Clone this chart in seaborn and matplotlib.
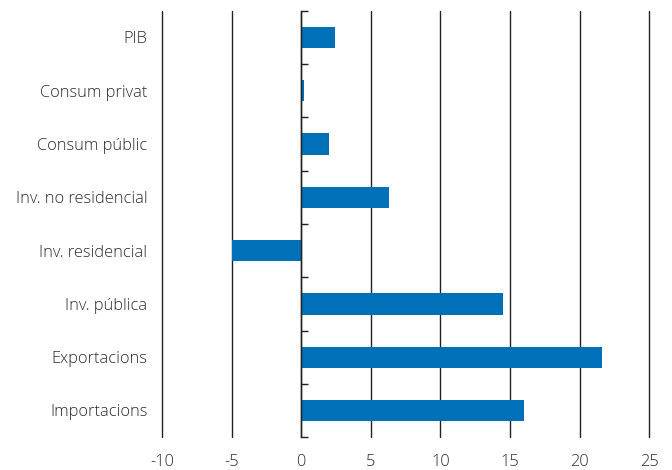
import pandas as pd
import matplotlib
matplotlib.use('Agg')
import matplotlib.pyplot as plt
import seaborn as sns
from matplotlib.ticker import FixedLocator, MultipleLocator

# dades
categories = ['PIB', 'Consum privat', 'Consum públic', 'Inv. no residencial',
              'Inv. residencial', 'Inv. pública', 'Exportacions', 'Importacions']
values = [2.4, 0.2, 2.0, 6.3, -5.0, 14.5, 21.6, 16.0]

df = pd.DataFrame({'categoria': categories, 'valor': values})

sns.set_style('white')
plt.rcParams['font.family'] = ['Open Sans', 'DejaVu Sans']
plt.rcParams['axes.unicode_minus'] = False
text_color = '#2a2a2a'

fig = plt.figure(figsize=(6.72, 4.70), dpi=100)
ax = fig.add_axes([0.241, 0.070, 0.725, 0.907])

sns.barplot(data=df, x='valor', y='categoria', orient='h', color='#0070b8',
            width=0.4, saturation=1, linewidth=0, ax=ax)

ax.set_xlim(-10, 25)
ax.set_ylim(len(categories) - 0.5, -0.5)
ax.xaxis.set_major_locator(MultipleLocator(5))
ax.grid(axis='x', color='#222222', linewidth=1)
ax.grid(axis='y', visible=False)
ax.set_axisbelow(True)
for gl in ax.get_xgridlines():
    gl.set_clip_on(False)

# línia del zero amb marques entre categories
for s in ['top', 'bottom', 'left']:
    ax.spines[s].set_visible(False)
ax.spines['right'].set_position(('data', 0))
ax.spines['right'].set_color('#222222')
ax.spines['right'].set_linewidth(1)
ax.yaxis.set_minor_locator(FixedLocator([i - 0.5 for i in range(len(categories) + 1)]))
ax.tick_params(axis='y', which='minor', left=False, right=True, direction='out',
               length=5, width=1, color='#222222')
ax.tick_params(axis='y', which='major', left=False, right=False, labelleft=True,
               pad=7, labelsize=11.8, labelcolor=text_color)
ax.tick_params(axis='x', which='major', bottom=False, pad=9, labelsize=11.8,
               labelcolor=text_color)
for lbl in ax.get_xticklabels() + ax.get_yticklabels():
    lbl.set_fontweight('light')

ax.set_xlabel('')
ax.set_ylabel('')

fig.savefig('out.png', dpi=100)
